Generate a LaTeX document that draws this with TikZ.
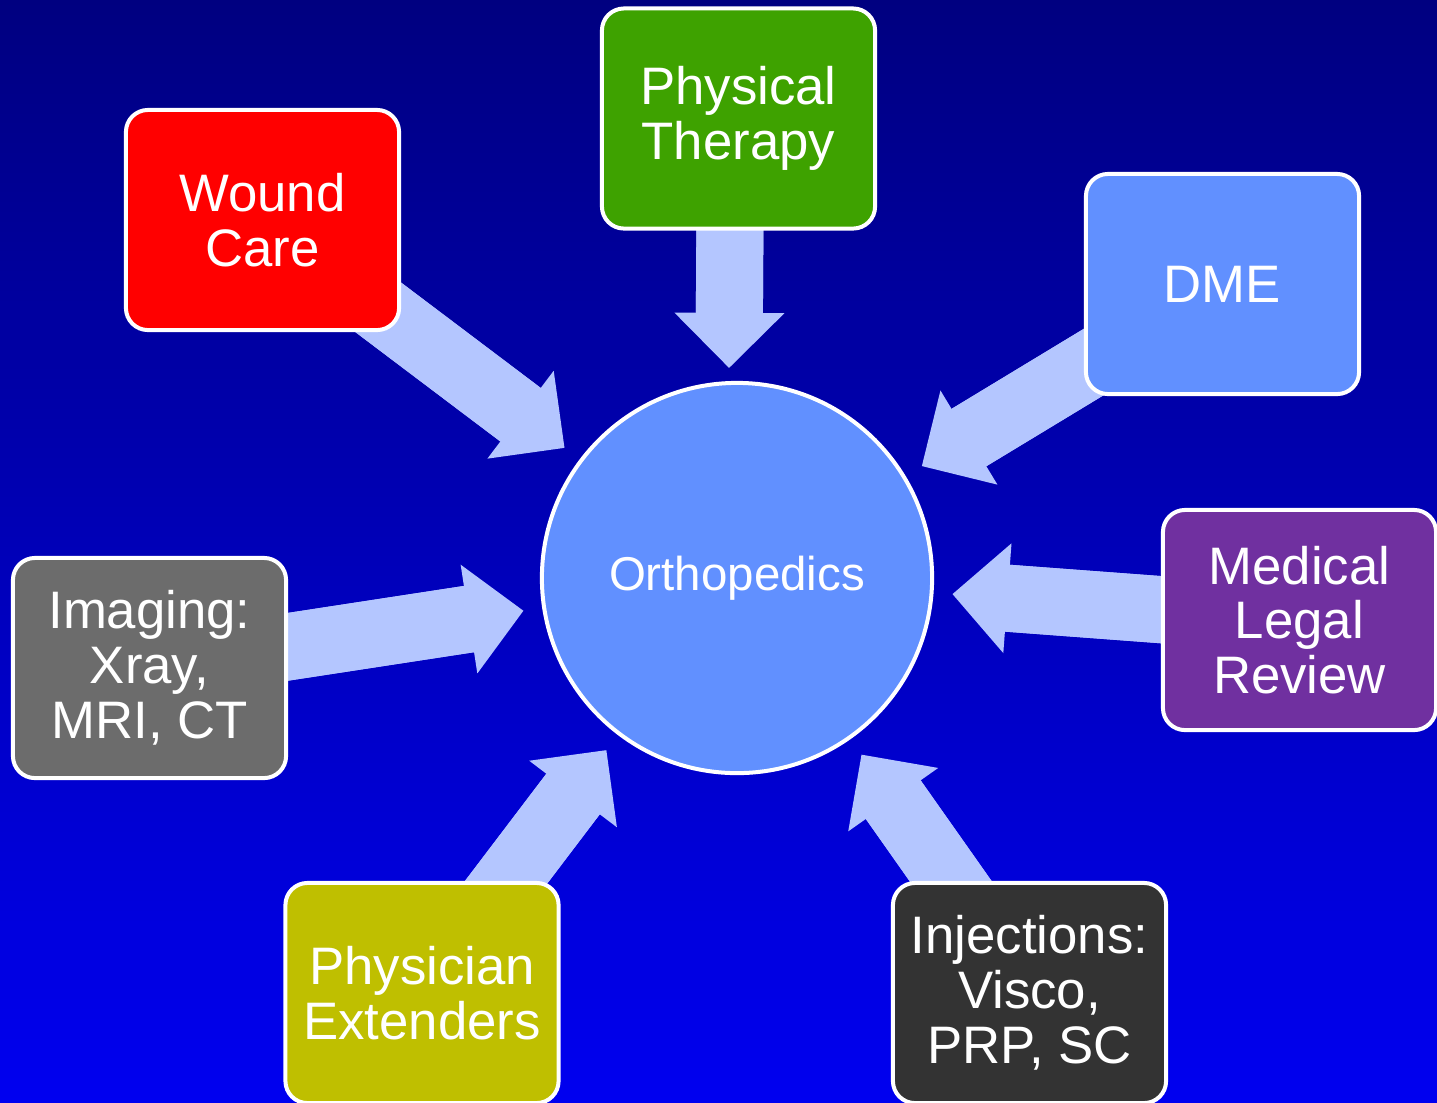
\documentclass[tikz,border=0pt]{standalone}
\usepackage{fontspec}
\setmainfont{Liberation Sans}
\usetikzlibrary{arrows.meta}
\definecolor{navytop}{RGB}{0,0,128}
\definecolor{bluebottom}{RGB}{0,0,240}
\definecolor{orthoblue}{RGB}{97,144,255}
\definecolor{flowblue}{RGB}{180,198,255}
\definecolor{woundred}{RGB}{255,0,0}
\definecolor{therapygreen}{RGB}{62,162,0}
\definecolor{legalpurple}{RGB}{112,48,160}
\definecolor{imaginggray}{RGB}{108,108,108}
\definecolor{extenderolive}{RGB}{191,191,0}
\definecolor{injectiongray}{RGB}{51,51,51}
\pgfdeclarelayer{backdrop}
\pgfdeclarelayer{links}
\pgfsetlayers{backdrop,links,main}
\tikzset{
  service/.style={rectangle, rounded corners=0.22cm, draw=white,
    line width=0.04cm, minimum width=2.73cm, minimum height=2.2cm,
    inner sep=0pt, align=center, text=white,
    font=\fontsize{15}{15.6}\selectfont},
  specialty/.style={circle, draw=white, fill=orthoblue, line width=0.04cm,
    minimum size=3.9cm, inner sep=0pt, text=white,
    font=\fontsize{13.5}{16}\selectfont},
  flow/.style={flowblue, line width=0.67cm, shorten >=#1,
    -{Triangle[length=0.55cm, width=1.1cm, line width=0pt]},
    postaction={draw, -, shorten >=#1+0.5cm}},
  flow/.default=0.19cm
}

\begin{document}
\begin{tikzpicture}[x=0.01cm,y=-0.01cm]
  % Background
  \useasboundingbox (0,0) rectangle (1437,1102);
  \begin{pgfonlayer}{backdrop}
    \shade[top color=navytop, bottom color=bluebottom]
      (0,0) rectangle (1437,1102);
  \end{pgfonlayer}

  % Centre
  \node[specialty] (ortho) at (737,578) {Orthopedics};

  % Services
  \node[service, fill=woundred] (wound) at (262.5,220) {Wound\\Care};
  \node[service, fill=therapygreen] (therapy) at (738.5,118.5)
    {Physical\\Therapy};
  \node[service, fill=orthoblue] (dme) at (1222.5,284) {DME};
  \node[service, fill=legalpurple] (legal) at (1299.5,620)
    {Medical\\Legal\\Review};
  \node[service, fill=imaginggray] (imaging) at (149.5,668)
    {Imaging:\\Xray,\\MRI, CT};
  \node[service, fill=extenderolive] (extenders) at (422,993)
    {Physician\\Extenders};
  \node[service, fill=injectiongray] (injections) at (1029.5,993)
    {Injections:\\Visco,\\PRP, SC};

  % Arrows into the centre
  \begin{pgfonlayer}{links}
    \draw[flow] (wound.center) -- (ortho);
    \draw[flow=0.13cm] ([xshift=-0.08cm]therapy.center)
      -- ([xshift=-0.08cm]ortho.north);
    \draw[flow] (dme.center) -- (ortho);
    \draw[flow] (legal.center) -- (ortho);
    \draw[flow] (imaging.center) -- (ortho);
    \draw[flow] (extenders.center) -- (ortho);
    \draw[flow] (injections.center) -- (ortho);
  \end{pgfonlayer}
\end{tikzpicture}
\end{document}
